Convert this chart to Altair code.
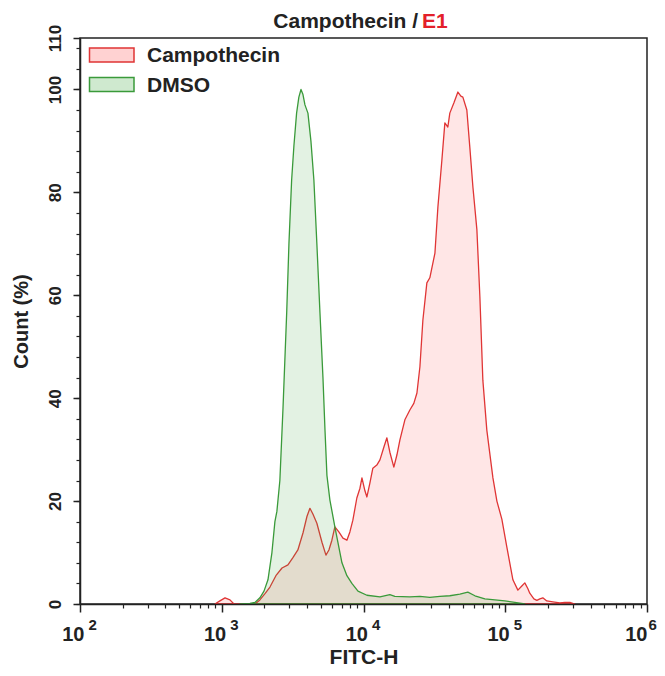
import altair as alt
import pandas as pd

FONT = "Liberation Sans"

series_names = ["Campothecin", "DMSO"]
fill_colors = ["#ff5555", "#44aa44"]
legend_fill_colors = ["#ffd2d2", "#cfe9cf"]
line_colors = ["#e03535", "#3a9a3a"]

# Campothecin histogram: x as log10(FITC-H), y as Count (%)
camp_log10 = [2.952, 2.987, 3.023, 3.058, 3.086, 3.234, 3.269, 3.305, 3.340, 3.382,
              3.425, 3.467, 3.502, 3.537, 3.573, 3.601, 3.622, 3.643, 3.671, 3.707,
              3.735, 3.756, 3.777, 3.798, 3.826, 3.855, 3.883, 3.904, 3.925, 3.953,
              3.975, 3.989, 4.010, 4.024, 4.045, 4.066, 4.094, 4.116, 4.144, 4.165,
              4.186, 4.214, 4.236, 4.257, 4.292, 4.327, 4.355, 4.377, 4.398, 4.419,
              4.447, 4.468, 4.504, 4.525, 4.553, 4.574, 4.595, 4.609, 4.638, 4.666,
              4.687, 4.701, 4.729, 4.750, 4.772, 4.800, 4.821, 4.842, 4.870, 4.913,
              4.941, 4.976, 5.011, 5.054, 5.089, 5.117, 5.138, 5.159, 5.173, 5.202,
              5.223, 5.244, 5.265, 5.293, 5.336, 5.385, 5.420, 5.456, 5.491]
camp_count = [0, 0.6, 1.2, 0.8, 0, 0, 0.8, 2.0, 3.3, 5.5,
              7.0, 7.6, 9.0, 10.5, 13.8, 17.0, 18.6, 17.5, 15.7, 12.0,
              9.5, 10.5, 12.4, 15.0, 14.0, 12.8, 12.4, 14.0, 16.3, 20.6,
              22.5, 24.5, 22.0, 20.8, 23.5, 26.4, 27.0, 28.0, 30.5, 32.3,
              29.5, 26.6, 29.0, 31.9, 35.8, 37.7, 39.0, 41.0, 46.1, 55.2,
              62.4, 63.4, 68.2, 77.2, 86.3, 93.5, 92.7, 95.4, 97.4, 99.5,
              98.7, 98.5, 96.0, 88.8, 81.0, 72.7, 59.7, 43.5, 33.8, 24.5,
              20.0, 16.5, 11.1, 4.7, 2.7, 3.5, 4.1, 3.0, 2.1, 1.0,
              0.7, 1.0, 1.2, 0.6, 0.4, 0.2, 0.3, 0.3, 0]

# DMSO histogram
dmso_log10 = [3.128, 3.199, 3.234, 3.269, 3.298, 3.326, 3.354, 3.375, 3.389, 3.410,
              3.432, 3.458, 3.474, 3.493, 3.509, 3.528, 3.544, 3.559, 3.573, 3.587,
              3.608, 3.629, 3.650, 3.671, 3.693, 3.714, 3.728, 3.742, 3.763, 3.798,
              3.848, 3.883, 3.918, 3.961, 4.024, 4.116, 4.186, 4.221, 4.327, 4.398,
              4.468, 4.539, 4.609, 4.680, 4.736, 4.786, 4.856, 4.927, 4.997, 5.068,
              5.138]
dmso_count = [0, 0.1, 0.3, 1.2, 2.5, 4.7, 10.0, 16.0, 18.0, 24.0,
              38.0, 56.5, 70.0, 82.4, 89.0, 95.4, 98.5, 100.0, 99.0, 97.0,
              95.4, 90.0, 82.4, 70.0, 56.5, 44.0, 34.0, 25.0, 20.2, 15.0,
              8.0, 5.5, 4.0, 2.5, 1.7, 1.4, 1.8, 1.5, 1.4, 1.5,
              1.3, 1.5, 1.6, 1.9, 2.3, 1.6, 1.0, 0.8, 0.6, 0.3,
              0]

x_major = [100, 1000, 10000, 100000, 1000000]
x_minor = [k * 10 ** d for d in range(2, 6) for k in range(2, 10)]
y_major = [0, 20, 40, 60, 80, 100, 110]
y_minor = list(range(0, 111, 4))

rows = []
for e, c in zip(camp_log10, camp_count):
    rows.append({"series": "Campothecin", "fitc": 10 ** e, "count": c})
for e, c in zip(dmso_log10, dmso_count):
    rows.append({"series": "DMSO", "fitc": 10 ** e, "count": c})
df = pd.DataFrame(rows)

xscale = alt.Scale(type="log", domain=[100, 1000000], nice=False)
yscale = alt.Scale(domain=[0, 110], nice=False, zero=True)

x_axis_main = alt.Axis(values=x_major, labelExpr="'10'", labelAlign="right",
                       labelOffset={"condition": {"test": "datum.value >= 1000000", "value": 0},
                                    "value": 4},
                       labelBaseline="alphabetic", labelPadding=28, labelFontSize=20,
                       labelFont=FONT, labelFontWeight="bold", labelColor="#222",
                       labelFlush=False, labelOverlap=False, labelBound=False,
                       tickSize=8, tickWidth=1.5, tickColor="#222",
                       domainColor="#222", domainWidth=1.5, grid=False, orient="bottom",
                       title="FITC-H", titleX=283.5, titleY=59, titleBaseline="alphabetic",
                       titleAlign="center", titleFontSize=21, titleFont=FONT,
                       titleFontWeight="bold", titleColor="#222", zindex=1)
y_axis_main = alt.Axis(values=y_major, labelAngle=270, labelAlign="center",
                       labelBaseline="alphabetic", labelPadding=13, labelFontSize=17,
                       labelFont=FONT, labelFontWeight="bold", labelColor="#222",
                       labelFlush=False, labelOverlap=False, labelBound=False,
                       tickSize=7, tickWidth=1.5, tickColor="#222",
                       domainColor="#222", domainWidth=1.5, grid=False, orient="left",
                       title="Count (%)", titleX=-53, titleY=283, titleAngle=270,
                       titleAlign="center", titleBaseline="alphabetic", titleFontSize=20,
                       titleFont=FONT, titleFontWeight="bold", titleColor="#222", zindex=1)

areas = alt.Chart(df).mark_area(fillOpacity=0.15, strokeWidth=1.3, interpolate="linear",
                                strokeJoin="round").encode(
    x=alt.X("fitc:Q", scale=xscale, axis=x_axis_main),
    y=alt.Y("count:Q", scale=yscale, axis=y_axis_main, stack=None),
    fill=alt.Fill("series:N", scale=alt.Scale(domain=series_names, range=fill_colors), legend=None),
    stroke=alt.Stroke("series:N", scale=alt.Scale(domain=series_names, range=line_colors), legend=None),
)

minor = alt.Chart(df).mark_point(opacity=0, size=1).encode(
    x=alt.X("fitc:Q", scale=xscale,
            axis=alt.Axis(values=x_minor, labels=False, domain=False, tickSize=4,
                          tickWidth=1.2, tickColor="#222", grid=False, orient="bottom",
                          title=None, zindex=1)),
    y=alt.Y("count:Q", scale=yscale,
            axis=alt.Axis(values=y_minor, labels=False, domain=False, tickSize=4,
                          tickWidth=1.2, tickColor="#222", grid=False, orient="left",
                          title=None, zindex=1)),
)

sup = alt.Chart(df).mark_point(opacity=0, size=1).encode(
    x=alt.X("fitc:Q", scale=xscale,
            axis=alt.Axis(values=x_major, labelExpr="'' + round(log(datum.value) / LN10)",
                          labelAlign="left",
                          labelOffset={"condition": {"test": "datum.value >= 1000000", "value": 1},
                                       "value": 8},
                          labelBaseline="alphabetic",
                          labelPadding=25, labelFontSize=15, labelFont=FONT,
                          labelFontWeight="bold", labelColor="#222",
                          labelFlush=False, labelOverlap=False, labelBound=False,
                          ticks=False, tickSize=0, domain=False, grid=False,
                          orient="bottom", title=None, zindex=1)),
    y=alt.Y("count:Q", scale=yscale, axis=None),
)

one = alt.Data(values=[{}])
title_a = alt.Chart(one).mark_text(
    align="right", baseline="alphabetic", fontSize=21, font=FONT, fontWeight="bold",
    color="#222").encode(x=alt.value(338), y=alt.value(-10), text=alt.value("Campothecin /"))
title_b = alt.Chart(one).mark_text(
    align="left", baseline="alphabetic", fontSize=21, font=FONT, fontWeight="bold",
    color="#e3202a").encode(x=alt.value(342), y=alt.value(-10), text=alt.value("E1"))

legend_layers = []
for i, name in enumerate(series_names):
    top = 10 + 29.5 * i
    legend_layers.append(alt.Chart(one).mark_rect(
        fill=legend_fill_colors[i], stroke=line_colors[i], strokeWidth=1.5).encode(
        x=alt.value(9.5), x2=alt.value(54), y=alt.value(top), y2=alt.value(top + 14)))
    legend_layers.append(alt.Chart(one).mark_text(
        align="left", baseline="alphabetic", fontSize=21, font=FONT, fontWeight="bold",
        color="#222").encode(x=alt.value(67), y=alt.value(top + 14), text=alt.value(name)))

chart = alt.layer(areas, minor, sup, title_a, title_b, *legend_layers).resolve_axis(
    x="independent", y="independent"
).properties(
    width=567, height=566,
    padding={"left": 72, "top": 30, "right": 10, "bottom": 64},
    autosize=alt.AutoSizeParams(type="none"),
).configure_view(stroke="#222", strokeWidth=1.5)

chart.save("out.html", embed_options={"renderer": "svg", "actions": False})
